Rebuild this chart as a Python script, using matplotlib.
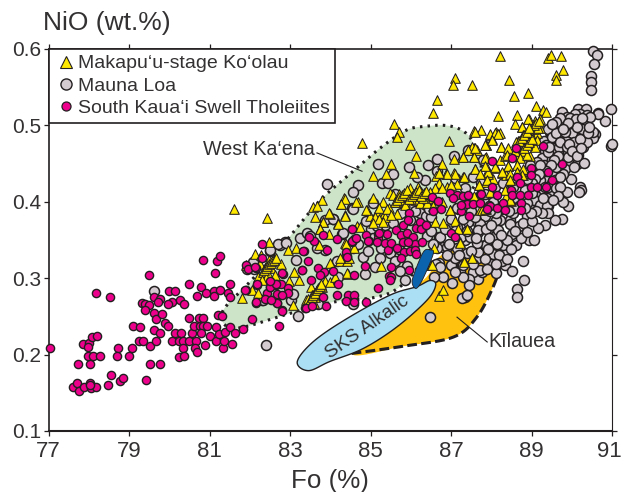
import matplotlib
matplotlib.use("Agg")
import matplotlib.pyplot as plt
import numpy as np
from matplotlib.lines import Line2D
from matplotlib.transforms import ScaledTranslation

plt.rcParams['font.family'] = ['Liberation Sans', 'DejaVu Sans']

DARK = '#231f20'
TEXT = '#333132'

fo_ticks = [77, 79, 81, 83, 85, 87, 89, 91]
nio_ticks = [0.1, 0.2, 0.3, 0.4, 0.5, 0.6]

# (Fo, NiO)
kauai = [
    (77.04, .208), (77.60, .157), (77.72, .163), (77.75, .153), (77.89, .157), (78.04, .163), (78.05, .156),
    (78.18, .157), (78.02, .160), (77.73, .188), (78.04, .188), (77.85, .214), (78.01, .215), (77.97, .210),
    (78.09, .223), (78.20, .225), (77.99, .198), (78.10, .198), (78.29, .198), (78.18, .281), (78.52, .276),
    (78.72, .208), (78.70, .198), (78.99, .198), (79.07, .208), (78.56, .173), (78.48, .160), (78.78, .165),
    (78.84, .170), (79.42, .167), (79.53, .188), (79.77, .188), (79.53, .211), (79.24, .218), (79.34, .218),
    (79.68, .218), (79.11, .237), (79.28, .236), (79.61, .232), (79.78, .228), (79.49, .304), (79.32, .268),
    (79.40, .266), (79.49, .265), (79.39, .258), (79.63, .275), (79.78, .273), (79.73, .269), (79.61, .255),
    (79.68, .247), (79.83, .253), (79.90, .242), (79.98, .238), (80.00, .283), (80.15, .283), (80.07, .269),
    (79.98, .266), (80.26, .272), (80.37, .266), (80.48, .292), (80.48, .248), (80.07, .218), (80.15, .228),
    (80.29, .228), (80.23, .218), (80.33, .218), (80.50, .218), (80.66, .218), (80.33, .208), (80.23, .197),
    (80.36, .198), (80.63, .208), (80.69, .203), (80.56, .228), (80.62, .237), (80.77, .237), (80.73, .248),
    (80.84, .248), (80.85, .238), (80.79, .228), (80.94, .238), (80.89, .212), (81.02, .224), (81.16, .218),
    (81.16, .236), (81.33, .208), (81.37, .218), (81.24, .227), (81.39, .230), (81.56, .214), (81.50, .236),
    (81.63, .228), (81.82, .233), (81.21, .252), (81.31, .251), (80.70, .277), (80.80, .289), (80.91, .280),
    (81.10, .283), (81.12, .277), (81.27, .284), (81.45, .280), (81.52, .276), (81.50, .293), (81.14, .307),
    (80.84, .324), (81.18, .323), (81.26, .329), (82.05, .247), (82.72, .238), (81.90, .284), (81.91, .317),
    (81.95, .312), (82.16, .314), (82.31, .345), (82.31, .326), (82.19, .291), (82.16, .268), (82.43, .280),
    (82.57, .272), (82.51, .288), (82.66, .291), (82.68, .277), (82.78, .293), (82.68, .267), (82.80, .258),
    (82.82, .306), (82.96, .287), (82.96, .280), (83.30, .311), (83.34, .335), (83.38, .261), (84.55, .365),
    (84.60, .351), (84.53, .348), (84.41, .329), (84.60, .304), (84.86, .316), (84.90, .357), (84.96, .349),
    (85.18, .358), (85.19, .353), (85.15, .348), (85.42, .358), (85.36, .346), (85.44, .337), (85.52, .346),
    (85.66, .340), (85.63, .363), (85.75, .356), (85.81, .369), (85.81, .348), (85.90, .359), (85.96, .385),
    (85.94, .376), (86.05, .354), (86.12, .366), (86.10, .345), (85.94, .348), (85.84, .334), (85.98, .335),
    (86.10, .337), (85.76, .326), (86.29, .347), (86.23, .373), (86.25, .365), (86.38, .369), (86.13, .332),
    (85.52, .315), (85.95, .311), (85.47, .303), (85.52, .302), (86.52, .406), (86.68, .401), (86.56, .388),
    (86.74, .390), (86.97, .411), (87.14, .409), (87.06, .405), (87.29, .407), (87.43, .409), (87.39, .397),
    (87.26, .388), (87.26, .396), (87.45, .382), (87.73, .410), (87.94, .396), (87.55, .397), (86.99, .359),
    (87.10, .354), (88.62, .470), (89.28, .473), (88.51, .457), (88.03, .454), (89.77, .449), (88.98, .444),
    (88.98, .435), (88.63, .433), (89.41, .439), (89.50, .429), (88.71, .424), (88.03, .420), (88.98, .419),
    (89.14, .419), (89.36, .419), (88.50, .416), (88.15, .409), (88.51, .409), (88.71, .409), (88.92, .409),
    (87.74, .410), (88.74, .399), (88.28, .399), (87.97, .395), (88.15, .392), (88.33, .389), (88.74, .389),
    (82.79, .307), (83.45, .322), (83.33, .336), (83.60, .349), (83.81, .356), (84.16, .351), (83.91, .337),
    (84.53, .365), (84.53, .349), (84.65, .352), (84.39, .334), (84.42, .328), (83.70, .313), (83.84, .308),
    (83.74, .304), (84.07, .310), (84.20, .292), (83.53, .297), (83.29, .311), (83.81, .275), (83.89, .263),
    (83.39, .261), (83.54, .264), (84.17, .278), (84.45, .278), (84.60, .278), (84.39, .270), (84.59, .269),
    (82.67, .267), (82.79, .257), (82.67, .279), (82.80, .278), (82.38, .273), (82.53, .272), (82.15, .269),
    (82.50, .288), (82.64, .292), (82.50, .296), (82.19, .292), (81.88, .284), (82.14, .315), (83.48, .354),
    (84.95, .349), (85.20, .359), (84.90, .269), (85.18, .287), (85.49, .298), (87.72, .399), (87.90, .390),
]

makapuu = [
    (88.21, .591), (89.40, .588), (89.48, .592), (89.74, .591), (89.78, .572), (89.61, .566), (89.61, .560),
    (88.43, .560), (87.11, .562), (87.04, .553), (87.51, .553), (88.57, .539), (88.92, .542), (86.64, .533),
    (86.56, .516), (88.16, .512), (88.63, .514), (89.10, .525), (89.29, .520), (89.36, .518), (88.94, .509),
    (89.09, .506), (89.21, .509), (88.59, .502), (85.59, .502), (85.72, .492), (85.67, .485), (84.80, .477),
    (85.98, .475), (86.96, .479), (87.57, .493), (87.74, .494), (87.97, .488), (88.11, .491), (88.22, .490),
    (88.03, .482), (87.86, .475), (88.24, .472), (88.77, .498), (88.67, .479), (88.88, .484), (89.00, .494),
    (89.13, .490), (89.21, .496), (88.96, .477), (89.09, .472), (88.80, .461), (88.96, .460), (88.63, .461),
    (86.13, .460), (85.52, .449), (85.38, .436), (85.07, .434), (86.08, .438), (86.78, .450), (87.08, .456),
    (87.29, .458), (87.57, .459), (87.51, .472), (87.43, .468), (87.64, .468), (86.88, .437), (86.70, .438),
    (86.62, .434), (87.07, .438), (87.31, .433), (87.60, .443), (87.87, .447), (87.87, .437), (87.95, .438),
    (88.11, .444), (88.26, .438), (88.42, .447), (88.37, .435), (88.22, .455), (88.34, .460), (88.80, .435),
    (88.47, .429), (88.05, .430), (87.70, .422), (87.14, .423), (86.89, .420), (86.69, .424), (86.60, .418),
    (86.19, .420), (85.98, .418), (85.48, .411), (85.05, .405), (84.70, .400), (84.35, .405), (84.26, .397),
    (83.79, .402), (85.32, .400), (85.46, .392), (85.65, .400), (85.86, .400), (86.10, .402), (86.23, .398),
    (86.40, .398), (86.56, .405), (87.57, .407), (88.36, .408), (88.49, .401), (87.80, .392), (86.97, .389),
    (84.92, .389), (84.37, .383), (83.99, .384), (85.15, .387), (85.32, .381), (85.65, .384), (83.83, .373),
    (84.20, .372), (84.66, .368), (86.60, .374), (86.81, .372), (87.10, .375), (87.39, .365), (85.57, .409),
    (85.77, .402), (85.85, .396), (86.25, .413), (86.31, .405), (86.39, .411), (86.48, .413), (86.77, .418),
    (86.77, .400), (87.01, .422), (87.32, .432), (87.59, .443), (87.10, .437), (86.89, .437), (86.70, .438),
    (87.29, .459), (87.58, .459), (87.86, .458), (87.59, .470), (87.86, .474), (87.59, .492), (84.99, .381),
    (85.36, .380), (85.11, .380), (84.90, .389), (84.36, .404), (84.75, .367), (87.18, .365), (87.40, .365),
    (87.22, .347), (86.58, .339), (84.36, .346), (84.60, .340), (84.38, .335), (84.24, .322), (84.41, .323),
    (85.25, .316), (84.43, .306), (86.50, .317), (87.32, .322), (87.53, .326), (86.97, .389), (86.56, .395),
    (87.72, .389), (87.86, .391), (87.93, .437), (87.86, .426), (87.69, .422), (81.61, .391), (82.42, .379),
    (82.48, .347), (82.14, .332), (82.96, .337), (83.16, .340), (82.29, .330), (82.48, .324), (81.90, .317),
    (82.25, .319), (82.38, .313), (82.54, .313), (82.77, .318), (82.21, .302), (82.62, .304), (82.33, .308),
    (82.46, .305), (82.06, .285), (81.80, .274), (82.21, .280), (82.98, .296), (83.23, .297), (83.11, .308),
    (83.08, .265), (83.39, .272), (83.52, .289), (83.54, .278), (83.66, .284), (83.77, .291), (83.87, .296),
    (83.99, .295), (84.12, .302), (83.45, .273), (83.62, .275), (83.99, .320), (84.24, .326), (84.42, .307),
    (84.46, .326), (83.58, .393), (83.68, .395), (83.62, .380), (83.97, .385), (83.82, .374), (84.20, .371),
    (83.74, .365), (83.97, .358), (83.73, .344), (84.36, .382), (84.26, .397), (84.65, .400), (84.38, .345),
    (86.71, .277), (86.81, .285), (87.33, .321), (87.51, .326), (87.22, .346), (86.52, .317), (83.75, .365),
    (87.97, .489), (88.09, .490), (88.18, .489), (88.03, .481), (87.84, .475), (88.23, .472), (88.61, .478),
    (88.76, .498), (88.92, .509), (89.05, .495), (89.17, .497), (88.80, .487), (89.00, .485), (89.13, .481),
    (88.76, .467), (88.42, .470), (88.59, .467), (88.38, .461), (88.71, .457), (88.88, .461), (87.84, .457),
    (88.09, .445), (88.42, .447), (88.26, .439), (88.63, .448), (88.80, .443), (87.93, .439), (88.47, .437),
    (87.84, .447), (88.76, .435), (88.63, .439), (87.89, .428), (88.47, .428), (87.72, .437), (88.34, .415),
    (87.97, .413), (87.76, .389), (88.47, .402), (87.84, .391), (85.70, .410), (85.90, .408), (86.00, .404),
    (86.15, .410), (83.80, .289), (83.72, .280), (83.60, .268), (82.40, .300), (82.30, .298), (85.20, .392),
    (85.42, .390), (85.50, .383), (85.22, .377), (85.30, .373), (85.05, .372),
    # tightly stacked runs, they read as hatching
    (82.36, .311), (82.40, .313), (82.44, .316), (82.48, .318), (82.52, .320), (82.56, .322), (82.60, .324),
    (82.64, .326), (83.50, .272), (83.54, .275), (83.58, .278), (83.62, .281), (83.66, .284), (83.70, .287),
    (83.74, .290), (83.78, .293), (85.60, .400), (85.66, .403), (85.72, .406), (85.78, .409), (85.84, .412),
    (85.90, .415), (85.96, .404), (86.02, .407), (86.08, .410), (86.14, .413), (86.20, .416), (86.26, .408),
    (86.32, .411), (86.38, .414), (88.82, .470), (88.88, .474), (88.94, .478), (89.00, .482), (89.06, .500),
    (89.12, .503), (89.18, .506), (88.70, .480), (88.76, .484), (88.82, .488), (88.88, .492), (88.94, .496),
]

mauna_loa = [
    (79.62, .283), (82.41, .212), (82.87, .348), (82.75, .343), (82.51, .336), (82.30, .271), (83.21, .251),
    (90.54, .598), (90.62, .592), (90.55, .581), (90.48, .565), (90.48, .557), (90.49, .546), (90.97, .522),
    (90.98, .473), (90.99, .476), (90.83, .506), (90.66, .516), (89.77, .517), (90.15, .521), (90.35, .522),
    (90.64, .515), (89.89, .511), (90.04, .507), (90.20, .515), (90.37, .513), (89.83, .502), (89.71, .500),
    (89.58, .496), (89.46, .491), (89.42, .495), (90.20, .500), (90.35, .500), (90.08, .491), (89.91, .494),
    (89.75, .489), (90.58, .489), (90.54, .483), (90.29, .487), (90.12, .483), (89.96, .483), (89.79, .472),
    (89.58, .476), (89.42, .481), (89.33, .467), (89.50, .463), (89.71, .463), (89.91, .465), (90.08, .472),
    (90.29, .472), (90.37, .478), (90.16, .461), (89.96, .452), (90.12, .450), (90.31, .451), (89.62, .452),
    (89.42, .454), (89.25, .457), (89.67, .441), (89.83, .443), (89.25, .441), (89.13, .452), (89.09, .443),
    (89.98, .430), (89.79, .436), (89.50, .439), (89.33, .430), (90.20, .419), (90.23, .415), (90.19, .413),
    (89.87, .413), (89.91, .395), (89.79, .400), (89.56, .414), (89.38, .404), (89.21, .395), (89.05, .400),
    (89.42, .395), (89.75, .378), (89.58, .376), (88.88, .382), (89.13, .419), (89.21, .428), (89.58, .428),
    (88.96, .448), (90.54, .491), (89.98, .500), (90.08, .500), (90.29, .505), (90.45, .511), (90.08, .515),
    (89.95, .510), (90.10, .508), (90.25, .495), (90.00, .490), (89.85, .480), (90.05, .478), (89.65, .482),
    (89.55, .470), (89.75, .455), (89.90, .458), (90.05, .445), (89.60, .445), (89.40, .465), (89.30, .448),
    (89.50, .425), (89.70, .432), (89.28, .415), (89.15, .437), (89.45, .410), (89.10, .408), (88.95, .395),
    (85.19, .450), (85.96, .446), (86.44, .448), (86.64, .456), (87.07, .460), (87.43, .468), (83.91, .423),
    (84.70, .422), (84.57, .413), (85.57, .437), (85.28, .425), (85.44, .424), (86.35, .429), (86.15, .433),
    (86.64, .440), (87.55, .433), (87.10, .431), (87.80, .455), (84.55, .392), (84.08, .378), (85.05, .398),
    (85.60, .410), (87.20, .402), (87.55, .398), (87.88, .398), (88.05, .400), (89.05, .402), (89.21, .396),
    (89.38, .405), (89.38, .394), (88.88, .398), (88.63, .400), (88.47, .376), (88.22, .376), (87.84, .381),
    (87.68, .372), (89.34, .369), (89.17, .366), (88.78, .323), (88.81, .297), (88.63, .286), (88.63, .275),
    (88.95, .350), (89.07, .350), (88.13, .307), (87.68, .299), (87.76, .308), (87.55, .308), (87.45, .299),
    (87.45, .291), (87.35, .275), (87.27, .274), (87.39, .278), (87.02, .294), (86.81, .302), (86.59, .302),
    (87.03, .317), (86.71, .320), (86.63, .318), (87.22, .310), (87.30, .317), (87.68, .326), (87.68, .334),
    (87.47, .354), (87.14, .339), (88.05, .332), (88.34, .317), (88.51, .310), (88.34, .334), (88.61, .344),
    (88.30, .343), (88.51, .358), (88.70, .368), (88.13, .376), (88.47, .371), (88.05, .354), (87.84, .343),
    (88.18, .363), (87.68, .360), (87.43, .374), (87.93, .365), (87.72, .371), (86.71, .354), (85.90, .316),
    (85.73, .310), (85.86, .297), (86.49, .249), (88.26, .323), (86.81, .341), (87.14, .367), (87.35, .350),
    (82.71, .345), (82.90, .346), (82.50, .337), (83.15, .324), (83.26, .353), (83.41, .359), (83.49, .355),
    (83.87, .337), (83.66, .339), (84.30, .358), (83.87, .376), (84.06, .378), (84.57, .391), (82.32, .271),
    (83.02, .272), (83.08, .279), (83.70, .266), (82.09, .321), (82.11, .312), (81.92, .312), (84.57, .266),
    (84.57, .339), (84.16, .323), (84.20, .302), (84.82, .328), (85.11, .315), (84.86, .306), (86.23, .385),
    (86.39, .381), (85.98, .376), (86.72, .354), (86.64, .339), (86.89, .341), (87.26, .354), (87.47, .354),
    (87.68, .363), (87.88, .365), (87.39, .333), (86.72, .315), (87.01, .317), (87.72, .311), (87.10, .326),
    (87.88, .343), (87.64, .346), (85.48, .333), (85.23, .326), (85.61, .322), (84.32, .359), (84.95, .335),
    (85.00, .365), (85.35, .370), (85.75, .385), (86.00, .395), (86.50, .380), (86.85, .365), (87.00, .378),
    (87.60, .380), (88.00, .370), (88.25, .390), (88.55, .385), (88.80, .372), (89.00, .375), (88.15, .345),
    (88.40, .350), (88.75, .352), (88.00, .318), (87.85, .325), (87.50, .335), (87.20, .330), (86.95, .345),
    # the packed right-hand cloud
    (89.30, .480), (89.36, .474), (89.44, .472), (89.52, .485), (89.62, .490), (89.68, .472), (89.72, .478),
    (89.82, .492), (89.88, .472), (89.94, .476), (90.00, .466), (90.12, .460), (90.20, .482), (90.22, .470),
    (90.40, .490), (90.44, .498), (90.25, .510), (89.70, .510), (89.60, .505), (89.52, .502), (90.14, .498),
    (89.90, .503), (89.78, .495), (89.66, .460), (89.56, .455), (89.48, .448), (89.36, .440), (89.22, .448),
    (89.18, .436), (89.08, .430), (89.00, .425), (88.90, .430), (89.28, .405), (89.34, .420), (89.42, .420),
    (89.62, .418), (89.70, .420), (89.66, .408), (89.54, .402), (89.42, .385), (89.26, .385), (89.10, .388),
    (88.98, .385), (88.85, .392), (88.70, .395), (88.56, .392), (88.44, .388), (88.30, .392), (88.12, .385),
    (87.96, .388), (87.70, .390), (87.50, .388), (87.30, .378), (87.10, .362), (87.40, .362), (87.62, .352),
    (87.95, .352), (88.25, .356), (88.60, .362), (88.88, .360), (88.20, .330), (88.48, .338), (87.92, .338),
    (87.55, .318), (87.30, .302), (87.10, .308), (87.90, .312), (88.12, .318), (88.40, .325), (86.40, .355),
    (86.55, .345), (86.90, .330), (86.50, .362), (85.70, .338), (85.25, .340), (85.05, .352), (84.70, .345),
    (84.90, .375), (85.15, .368), (85.55, .372), (86.10, .388), (86.45, .390), (87.15, .392), (87.35, .418),
    (87.85, .410), (88.10, .420), (88.55, .420), (88.85, .415), (89.00, .412), (87.75, .425), (88.30, .425),
]

# region outlines
kaena_fo = [81.34, 81.42, 81.85, 82.94, 84.0, 85.57, 86.6, 87.4, 87.75, 87.51, 87.22, 86.85, 86.4, 85.9, 85.28, 84.7, 83.75, 83.0, 82.09]
kaena_nio = [.258, .237, .236, .253, .268, .283, .345, .405, .445, .481, .495, .500, .499, .494, .472, .446, .402, .355, .300]
kilauea_fo = [84.53, 85.82, 87.06, 87.64, 88.05, 88.26, 88.22, 87.72, 86.81, 86.4, 85.57]
kilauea_nio = [.2015, .211, .223, .249, .289, .321, .335, .339, .332, .302, .263]
kilauea_edge = 6  # outline points that carry the dashed line
sks_fo = [83.18, 83.46, 83.99, 84.82, 85.65, 86.40, 86.62, 86.48, 86.15, 85.49, 84.41, 83.58]
sks_nio = [.1906, .179, .191, .208, .236, .271, .291, .297, .289, .278, .247, .217]
blue_fo = [86.15, 86.31, 86.56, 86.48, 86.31, 86.06, 86.05]
blue_nio = [.287, .300, .332, .337, .334, .302, .291]


def smooth(xs, ys, closed=True, n=12):
    # Catmull-Rom through the outline points
    p = np.column_stack([xs, ys])
    if closed:
        p = np.vstack([p[-1], p, p[0], p[1]])
    else:
        p = np.vstack([p[0], p, p[-1]])
    out = []
    for i in range(1, len(p) - 2):
        for t in np.linspace(0, 1, n, endpoint=False):
            out.append(0.5 * (2 * p[i] + (p[i + 1] - p[i - 1]) * t
                              + (2 * p[i - 1] - 5 * p[i] + 4 * p[i + 1] - p[i + 2]) * t ** 2
                              + (3 * p[i] - p[i - 1] - 3 * p[i + 1] + p[i + 2]) * t ** 3))
    out.append(p[-2])
    return np.array(out)


fig = plt.figure(figsize=(6.22, 4.92), dpi=100)
ax = fig.add_axes([48.5 / 622, 1 - 431 / 492, (612 - 48.5) / 622, (431 - 49) / 492])

# regions behind the points
xy = smooth(kaena_fo, kaena_nio)
ax.fill(xy[:, 0], xy[:, 1], color='#cde4c9', lw=0, zorder=1)
ax.plot(xy[:, 0], xy[:, 1], color=DARK, lw=2.2, ls=(0, (0.8, 1.7)), zorder=1.5)
xy = smooth(kilauea_fo, kilauea_nio)
ax.fill(xy[:, 0], xy[:, 1], color='#ffc20e', lw=0, zorder=2)
xy = smooth(kilauea_fo[:kilauea_edge], kilauea_nio[:kilauea_edge], closed=False)
ax.plot(xy[:, 0], xy[:, 1], color=DARK, lw=2.2, ls=(0, (3.2, 1.4)), zorder=2.5)

ax.scatter(*zip(*mauna_loa), s=52, marker='o', c='#d3cbd0', edgecolors=DARK, linewidths=1.1, zorder=3, clip_on=False)
ax.scatter(*zip(*makapuu), s=48, marker='^', c='#ffe800', edgecolors=DARK, linewidths=0.75, zorder=4)
ax.scatter(*zip(*kauai), s=35, marker='o', c='#ec008c', edgecolors=DARK, linewidths=1.0, zorder=5, clip_on=False)

xy = smooth(sks_fo, sks_nio)
ax.fill(xy[:, 0], xy[:, 1], facecolor='#abdff3', edgecolor=DARK, lw=1.0, zorder=6)
xy = smooth(blue_fo, blue_nio)
ax.fill(xy[:, 0], xy[:, 1], facecolor='#0b63ae', edgecolor=DARK, lw=0.6, zorder=6)

ax.text(84.91, .2355, 'SKS Alkalic', fontsize=13.8, color=TEXT, rotation=35, ha='center', va='center', zorder=7)
ax.text(80.84, .468, 'West Ka\u2018ena', fontsize=14.2, color=TEXT, va='center', zorder=7)
ax.text(87.93, .2165, 'K\u012blauea', fontsize=14.2, color=TEXT, va='center', zorder=7)
ax.plot([83.67, 84.79], [.464, .440], color=DARK, lw=0.8, zorder=7)
ax.plot([87.15, 87.9], [.249, .2165], color=DARK, lw=0.8, zorder=7)

ax.set_xlim(77, 91)
ax.set_ylim(0.1, 0.6)
ax.set_xticks(fo_ticks)
ax.set_yticks(nio_ticks)
ax.set_yticklabels(['%.1f' % v for v in nio_ticks])
ax.tick_params(direction='out', length=3.5, width=0.9, color=DARK, labelcolor=TEXT,
               top=True, right=True, pad=2)
ax.tick_params(axis='x', labelsize=16, pad=4)
ax.tick_params(axis='y', labelsize=15, pad=1.5)
for side, w in zip(['left', 'bottom', 'right', 'top'], [1.2, 1.5, 0.8, 1.2]):
    ax.spines[side].set_linewidth(w)
    ax.spines[side].set_color(DARK)
# keep the last label inside the picture
last = ax.get_xticklabels()[-1]
last.set_transform(last.get_transform() + ScaledTranslation(-3 / 100, 0, fig.dpi_scale_trans))
ax.set_xlabel('Fo (%)', fontsize=18.7, color=TEXT, labelpad=5)
fig.text(43 / 622, 1 - 23 / 492, 'NiO (wt.%)', fontsize=19, color=TEXT, va='center')

handles = [
    Line2D([], [], ls='', marker='^', ms=9, mfc='#ffe800', mec=DARK, mew=0.8),
    Line2D([], [], ls='', marker='o', ms=8, mfc='#d3cbd0', mec=DARK, mew=1.0),
    Line2D([], [], ls='', marker='o', ms=6.5, mfc='#ec008c', mec=DARK, mew=0.9),
]
leg = ax.legend(handles, ['Makapu\u2018u-stage Ko\u2018olau', 'Mauna Loa', 'South Kaua\u2018i Swell Tholeiites'],
                loc='upper left', bbox_to_anchor=(0, 1), borderaxespad=0, fontsize=14, fancybox=False,
                framealpha=1, edgecolor=DARK, labelcolor=TEXT, handletextpad=0.05, labelspacing=0.24,
                borderpad=0.3, handlelength=1.15)
leg.get_frame().set_linewidth(1.2)
leg.set_zorder(10)

fig.savefig('out.png', dpi=100)
